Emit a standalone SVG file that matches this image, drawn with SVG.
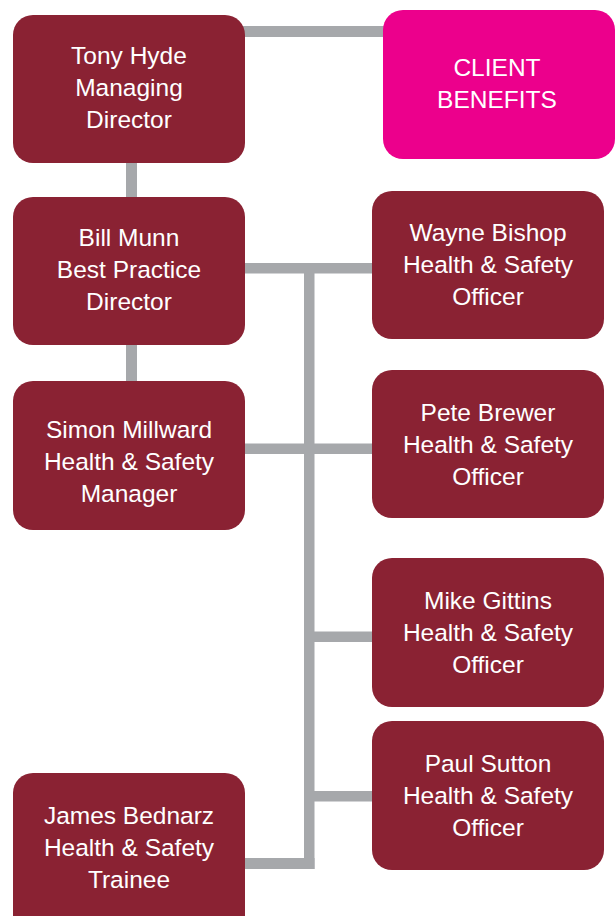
<svg xmlns="http://www.w3.org/2000/svg" width="615" height="916" viewBox="0 0 615 916">
<style>
.box{fill:#8A2233}
.pink{fill:#EC008C}
.c{fill:#A6A8AB}
text{font-family:"Liberation Sans",Arial,sans-serif;font-size:24.5px;fill:#FFFFFF;text-anchor:middle}
</style>
<rect width="615" height="916" fill="#FFFFFF"/>
<g id="connectors">
<rect class="c" x="240" y="26" width="150" height="11"/>
<rect class="c" x="126" y="158" width="11" height="44"/>
<rect class="c" x="126" y="340" width="11" height="46"/>
<rect class="c" x="240" y="263" width="137" height="10.5"/>
<rect class="c" x="240" y="443.5" width="137" height="10.5"/>
<rect class="c" x="304" y="263" width="10.5" height="606"/>
<rect class="c" x="310" y="631.5" width="67" height="10.5"/>
<rect class="c" x="310" y="791" width="67" height="10.5"/>
<rect class="c" x="240" y="858" width="74.5" height="11"/>
</g>
<g id="tony-hyde">
<rect class="box" x="13" y="15" width="232" height="148" rx="20"/>
<text x="129" y="64">Tony Hyde</text>
<text x="129" y="96">Managing</text>
<text x="129" y="128">Director</text>
</g>
<g id="client-benefits">
<rect class="pink" x="383" y="10" width="232" height="149" rx="20"/>
<text x="497" y="76">CLIENT</text>
<text x="497" y="108">BENEFITS</text>
</g>
<g id="bill-munn">
<rect class="box" x="13" y="197" width="232" height="148" rx="20"/>
<text x="129" y="246">Bill Munn</text>
<text x="129" y="278">Best Practice</text>
<text x="129" y="310">Director</text>
</g>
<g id="simon-millward">
<rect class="box" x="13" y="381" width="232" height="149" rx="20"/>
<text x="129" y="438">Simon Millward</text>
<text x="129" y="470">Health &amp; Safety</text>
<text x="129" y="502">Manager</text>
</g>
<g id="james-bednarz">
<rect class="box" x="13" y="773" width="232" height="165" rx="20"/>
<text x="129" y="824">James Bednarz</text>
<text x="129" y="856">Health &amp; Safety</text>
<text x="129" y="888">Trainee</text>
</g>
<g id="wayne-bishop">
<rect class="box" x="372" y="191" width="232" height="148" rx="20"/>
<text x="488" y="241">Wayne Bishop</text>
<text x="488" y="273">Health &amp; Safety</text>
<text x="488" y="305">Officer</text>
</g>
<g id="pete-brewer">
<rect class="box" x="372" y="370" width="232" height="148" rx="20"/>
<text x="488" y="421">Pete Brewer</text>
<text x="488" y="453">Health &amp; Safety</text>
<text x="488" y="485">Officer</text>
</g>
<g id="mike-gittins">
<rect class="box" x="372" y="558" width="232" height="149" rx="20"/>
<text x="488" y="609">Mike Gittins</text>
<text x="488" y="641">Health &amp; Safety</text>
<text x="488" y="673">Officer</text>
</g>
<g id="paul-sutton">
<rect class="box" x="372" y="721" width="232" height="149" rx="20"/>
<text x="488" y="772">Paul Sutton</text>
<text x="488" y="804">Health &amp; Safety</text>
<text x="488" y="836">Officer</text>
</g>
</svg>
